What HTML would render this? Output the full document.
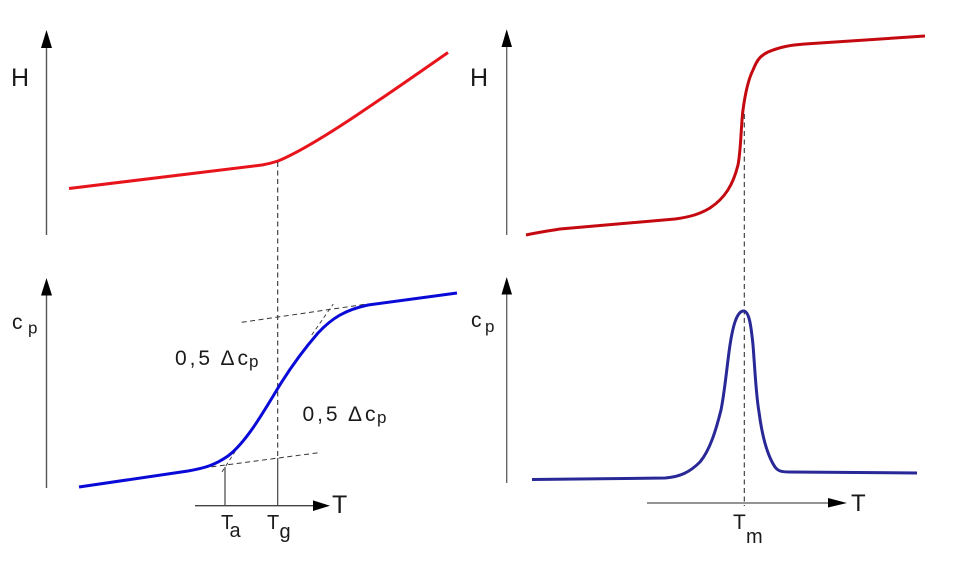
<!DOCTYPE html>
<html>
<head>
<meta charset="utf-8">
<style>
  html, body { margin: 0; padding: 0; background: #ffffff; }
  svg { display: block; }
  text { font-family: "Liberation Sans", Arial, sans-serif; fill: #1a1a1a; }
</style>
</head>
<body>
<svg width="973" height="565" viewBox="0 0 973 565" xmlns="http://www.w3.org/2000/svg">
  <rect x="0" y="0" width="973" height="565" fill="#ffffff"/>

  <!-- ===== Left top: H axis ===== -->
  <line x1="46.5" y1="46" x2="46.5" y2="235" stroke="#555" stroke-width="1.4"/>
  <polygon points="46.5,30 41,48 52,48" fill="#000"/>
  <text x="11" y="86" font-size="25">H</text>

  <!-- left red H curve -->
  <path d="M69,188.5 L262,165 C268,164 272,163 278,161 C300,152 330,133 357,115 C390,93 420,72 448,52.5"
        fill="none" stroke="#e8141c" stroke-width="3" stroke-linecap="butt"/>

  <!-- left vertical dashed line at Tg -->
  <line x1="277.7" y1="162" x2="277.7" y2="458" stroke="#333" stroke-width="1.1" stroke-dasharray="5,3.5"/>
  <line x1="277.7" y1="458" x2="277.7" y2="506" stroke="#444" stroke-width="1.2"/>

  <!-- ===== Left bottom: cp axis ===== -->
  <line x1="46.5" y1="294" x2="46.5" y2="488" stroke="#555" stroke-width="1.4"/>
  <polygon points="46.5,278 41,295.5 52,295.5" fill="#000"/>
  <text x="12" y="329" font-size="21">c</text>
  <text x="28" y="333.5" font-size="17">p</text>

  <!-- tangent dashed lines -->
  <line x1="241.7" y1="322.3" x2="365" y2="304.3" stroke="#333" stroke-width="1" stroke-dasharray="5,3.5"/>
  <line x1="203" y1="468" x2="320" y2="452.5" stroke="#333" stroke-width="1" stroke-dasharray="5,3.5"/>
  <line x1="311.7" y1="335" x2="333.3" y2="304" stroke="#333" stroke-width="0.9" stroke-dasharray="4,3"/>
  <line x1="222" y1="472" x2="236" y2="450" stroke="#333" stroke-width="0.9" stroke-dasharray="4,3"/>

  <!-- Ta vertical -->
  <line x1="225" y1="467" x2="225" y2="506" stroke="#444" stroke-width="1.2"/>

  <!-- left blue cp curve -->
  <path d="M79,487 L188,471 C205,468 215,465 228,456 C245,443 260,418 278,388 C292,365 305,348 318,333 C332,318 345,310 368,305 L457,293"
        fill="none" stroke="#0a0ad8" stroke-width="3"/>

  <!-- left T axis -->
  <line x1="195" y1="505.7" x2="315" y2="505.7" stroke="#444" stroke-width="1.3"/>
  <polygon points="330,505.7 313,500.4 313,511" fill="#000"/>
  <text x="332" y="513" font-size="25">T</text>

  <text x="221" y="529" font-size="20">T</text>
  <text x="229.5" y="537" font-size="20">a</text>
  <text x="267" y="529" font-size="20">T</text>
  <text x="279.5" y="538" font-size="20">g</text>

  <!-- 0,5 Δcp labels -->
  <text x="175" y="365" font-size="21" textLength="73" lengthAdjust="spacing">0,5 Δc</text>
  <text x="249" y="367" font-size="17">p</text>
  <text x="302.5" y="421" font-size="21" textLength="73" lengthAdjust="spacing">0,5 Δc</text>
  <text x="377" y="423" font-size="17">p</text>

  <!-- ===== Right top: H axis ===== -->
  <line x1="506.7" y1="46" x2="506.7" y2="235" stroke="#666" stroke-width="1.4"/>
  <polygon points="506.7,29.3 501.5,47 512,47" fill="#000"/>
  <text x="470" y="86" font-size="25">H</text>

  <!-- right red curve -->
  <path d="M526,235 C540,232 548,231 560,229 L675,219 C690,217 700,214 710,208 C725,198 733,185 738,165 C741,150 741,125 743,110 C745,95 748,80 753,70 C757,60 760,56 768,52 C780,47 790,45 805,44 L925,36"
        fill="none" stroke="#c40a10" stroke-width="3"/>

  <!-- right dashed vertical at Tm -->
  <line x1="744.3" y1="114" x2="744.3" y2="506" stroke="#333" stroke-width="1.1" stroke-dasharray="5,3.5"/>

  <!-- ===== Right bottom: cp axis ===== -->
  <line x1="506.7" y1="292" x2="506.7" y2="483" stroke="#666" stroke-width="1.4"/>
  <polygon points="506.7,277 501.5,294.5 512,294.5" fill="#000"/>
  <text x="471" y="327" font-size="21">c</text>
  <text x="485" y="332" font-size="17">p</text>

  <!-- right blue peak -->
  <path d="M532,479.5 L665,478 C680,477 690,472 700,462 C710,450 716,430 721,410 C725,390 727,365 730,345 C733,325 737,312 743,311 C749,310 751,325 753,345 C755,370 756,395 759,412 C762,435 767,455 775,467 C778,471 781,472 790,472 L917,473"
        fill="none" stroke="#282896" stroke-width="3"/>

  <!-- right T axis -->
  <line x1="647" y1="503" x2="830" y2="503" stroke="#555" stroke-width="1.3"/>
  <polygon points="847,503 828,498 828,507.5" fill="#000"/>
  <text x="851" y="511" font-size="24">T</text>

  <text x="733" y="529" font-size="21">T</text>
  <text x="746" y="543" font-size="20">m</text>
</svg>
</body>
</html>
